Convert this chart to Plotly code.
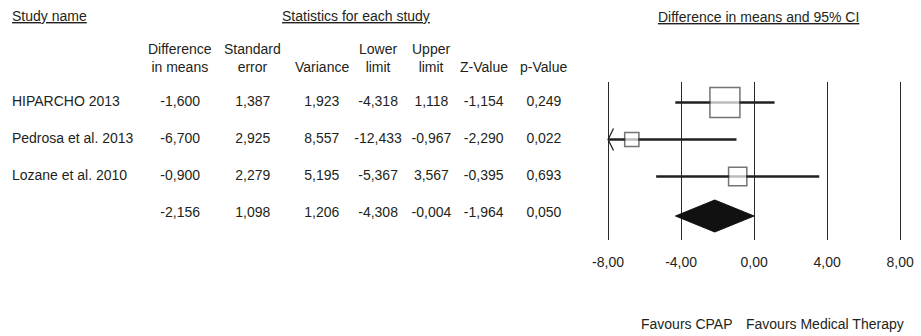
import numpy as np
import plotly.graph_objects as go

# ---- data ----------------------------------------------------------------
studies = ["HIPARCHO 2013", "Pedrosa et al. 2013", "Lozane et al. 2010"]
diff_means = [-1.600, -6.700, -0.900]
std_error = [1.387, 2.925, 2.279]
variance = [1.923, 8.557, 5.195]
lower_limit = [-4.318, -12.433, -5.367]
upper_limit = [1.118, -0.967, 3.567]
z_value = [-1.154, -2.290, -0.395]
p_value = [0.249, 0.022, 0.693]

pooled_diff = -2.156
pooled_se = 1.098
pooled_var = 1.206
pooled_lower = -4.308
pooled_upper = -0.004
pooled_z = -1.964
pooled_p = 0.050

tick_vals = [-8, -4, 0, 4, 8]
tick_text = ["-8,00", "-4,00", "0,00", "4,00", "8,00"]

col_headers = ["Difference<br>in means", "Standard<br>error", "Variance",
               "Lower<br>limit", "Upper<br>limit", "Z-Value", "p-Value"]

# ---- layout constants (pixel space) ---------------------------------------
W, H = 921, 336
FONT = "Liberation Sans, Arial, Helvetica, sans-serif"
INK = "#231f20"
FS = 14

col_x = [175.5, 249, 319, 376, 430, 483, 544]
row_y0, row_step = 102.5, 37
n = len(studies)
rows_y = [row_y0 + i * row_step for i in range(n)]
pooled_y = row_y0 + n * row_step

# forest panel: -8 at px 609, +8 at px 905
px_lo, px_hi = 609.0, 905.0
px_per_unit = (px_hi - px_lo) / (tick_vals[-1] - tick_vals[0])
x_range = [-8.5, 8.5]
dom_l = (px_lo + (x_range[0] - tick_vals[0]) * px_per_unit) / W
dom_r = (px_hi + (x_range[1] - tick_vals[-1]) * px_per_unit) / W
panel_top, panel_bot = 82, 240


def fmt(v):
    return f"{v:.3f}".replace(".", ",")


fig = go.Figure()

# ---- table columns --------------------------------------------------------
fig.add_trace(go.Scatter(
    x=[5] * n, y=rows_y, text=studies, mode="text", textposition="middle right",
    textfont=dict(family=FONT, size=FS, color=INK), hoverinfo="skip",
    xaxis="x", yaxis="y"))

columns = [
    diff_means + [pooled_diff],
    std_error + [pooled_se],
    variance + [pooled_var],
    lower_limit + [pooled_lower],
    upper_limit + [pooled_upper],
    z_value + [pooled_z],
    p_value + [pooled_p],
]
for cx, vals in zip(col_x, columns):
    fig.add_trace(go.Scatter(
        x=[cx] * len(vals), y=rows_y + [pooled_y], text=[fmt(v) for v in vals],
        mode="text", textposition="middle center",
        textfont=dict(family=FONT, size=FS, color=INK), hoverinfo="skip",
        xaxis="x", yaxis="y"))

# ---- forest plot ----------------------------------------------------------
weights = [1.0 / v for v in variance]
w_max = max(weights)
box_px = [30 * np.sqrt(w / w_max) for w in weights]
clip_lo, clip_hi = tick_vals[0], tick_vals[-1]

for i in range(n):
    lo = max(lower_limit[i], clip_lo)
    hi = min(upper_limit[i], clip_hi)
    fig.add_trace(go.Scatter(
        x=[lo, hi], y=[rows_y[i], rows_y[i]], mode="lines",
        line=dict(color=INK, width=2.6), hoverinfo="skip",
        xaxis="x2", yaxis="y2"))
    if lower_limit[i] < clip_lo:
        arm = 5.5 / px_per_unit
        fig.add_trace(go.Scatter(
            x=[clip_lo + arm, clip_lo, clip_lo + arm],
            y=[rows_y[i] - 11, rows_y[i], rows_y[i] + 11], mode="lines",
            line=dict(color=INK, width=1.3), hoverinfo="skip",
            xaxis="x2", yaxis="y2"))

fig.add_trace(go.Scatter(
    x=diff_means, y=rows_y, mode="markers",
    marker=dict(symbol="square", size=box_px, color="white",
                line=dict(color="#3a3a3a", width=1.5)),
    hoverinfo="skip", xaxis="x2", yaxis="y2"))

dh = 16
fig.add_trace(go.Scatter(
    x=[pooled_lower, pooled_diff, pooled_upper, pooled_diff, pooled_lower],
    y=[pooled_y + 2.5, pooled_y + 2.5 - dh, pooled_y + 2.5, pooled_y + 2.5 + dh, pooled_y + 2.5],
    mode="lines", fill="toself", fillcolor="#111111",
    line=dict(color="#111111", width=1), hoverinfo="skip",
    xaxis="x2", yaxis="y2"))

# ---- headers ---------------------------------------------------------------
ann = []


def label(x, y, text, anchor="center", size=FS):
    ann.append(dict(x=x, y=y, xref="x", yref="y", text=text, showarrow=False,
                    xanchor=anchor, yanchor="middle", align="center",
                    font=dict(family=FONT, size=size, color=INK)))


label(3, 16, "<u>Study name</u>", "left")
label(354, 16, "<u>Statistics for each study</u>")
label(761, 17, "<u>Difference in means and 95% CI</u>")
for cx, htxt in zip(col_x, col_headers):
    label(cx, 58 if "<br>" in htxt else 67, htxt)
label(640, 324, "Favours CPAP", "left")
label(747, 324, "Favours Medical Therapy", "left")

fig.update_layout(
    width=W, height=H, margin=dict(l=0, r=0, t=0, b=0),
    paper_bgcolor="white", plot_bgcolor="white", showlegend=False,
    annotations=ann,
    xaxis=dict(range=[0, W], domain=[0, 1], visible=False, fixedrange=True),
    yaxis=dict(range=[H, 0], domain=[0, 1], visible=False, fixedrange=True),
    xaxis2=dict(range=x_range, domain=[dom_l, dom_r], anchor="y2",
                tickvals=tick_vals, ticktext=tick_text, ticks="",
                ticklabelstandoff=12,
                showgrid=True, gridcolor="#2a2a2a", gridwidth=1.2,
                zeroline=False, showline=False,
                tickfont=dict(family=FONT, size=FS, color=INK)),
    yaxis2=dict(range=[panel_bot, panel_top],
                domain=[(H - panel_bot) / H, (H - panel_top) / H],
                anchor="x2", visible=False),
)

fig.write_html("out.html")
